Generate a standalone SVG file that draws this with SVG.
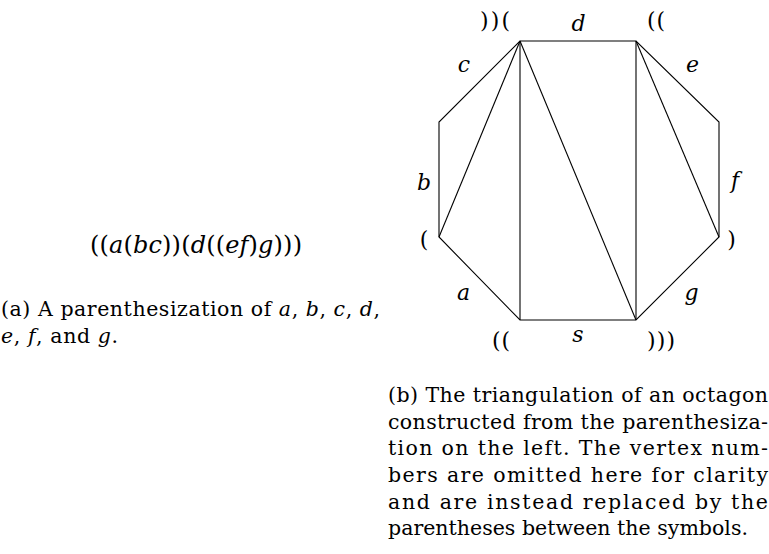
<svg xmlns="http://www.w3.org/2000/svg" width="769" height="554" viewBox="0 0 769 554" font-family="'DejaVu Serif', 'Liberation Serif', serif">
<style>
text { font-family: "DejaVu Serif", "Liberation Serif", serif; font-size: 20.5px; fill: #000; }
.m { font-style: italic; }
.lbl { text-anchor: middle; font-size: 22px; }
.edge { stroke: #000; stroke-width: 1.1; fill: none; stroke-linejoin: miter; }
</style>
<rect width="769" height="554" fill="#fff"/>
<g id="formula">
<text x="90" y="253" style="font-size:24px" textLength="212" lengthAdjust="spacing">((<tspan class="m">a</tspan>(<tspan class="m">bc</tspan>))(<tspan class="m">d</tspan>((<tspan class="m">ef</tspan>)<tspan class="m">g</tspan>)))</text>
</g>
<g id="caption-a">
<text x="1" y="316" textLength="379" lengthAdjust="spacing">(a) A parenthesization of <tspan class="m">a</tspan>, <tspan class="m">b</tspan>, <tspan class="m">c</tspan>, <tspan class="m">d</tspan>,</text>
<text x="1" y="343" textLength="117" lengthAdjust="spacing"><tspan class="m">e</tspan>, <tspan class="m">f</tspan>, and <tspan class="m">g</tspan>.</text>
</g>
<g id="connectors">
<polygon class="edge" points="520,41 636,41 719,122 719,237 636,320 520,320 439,237 439,122"/>
<line class="edge" x1="520" y1="41" x2="439" y2="237"/>
<line class="edge" x1="520" y1="41" x2="520" y2="320"/>
<line class="edge" x1="520" y1="41" x2="636" y2="320"/>
<line class="edge" x1="636" y1="41" x2="636" y2="320"/>
<line class="edge" x1="636" y1="41" x2="719" y2="237"/>
</g>
<g id="v-top-left"><text class="lbl" x="495" y="28" textLength="30" lengthAdjust="spacing">))(</text></g>
<g id="v-top-right"><text class="lbl" x="656" y="28" textLength="18" lengthAdjust="spacing">((</text></g>
<g id="v-left"><text class="lbl" x="424" y="247">(</text></g>
<g id="v-right"><text class="lbl" x="731.5" y="247">)</text></g>
<g id="v-bottom-left"><text class="lbl" x="501" y="348" textLength="18" lengthAdjust="spacing">((</text></g>
<g id="v-bottom-right"><text class="lbl" x="661" y="348" textLength="28" lengthAdjust="spacing">)))</text></g>
<g id="edge-labels">
<text class="lbl m" x="578.5" y="31">d</text>
<text class="lbl m" x="464" y="72">c</text>
<text class="lbl m" x="692.5" y="72">e</text>
<text class="lbl m" x="424" y="190">b</text>
<text class="lbl m" x="735" y="188">f</text>
<text class="lbl m" x="463.5" y="300">a</text>
<text class="lbl m" x="691.5" y="300">g</text>
<text class="lbl m" x="578" y="342">s</text>
</g>
<g id="caption-b">
<text x="388" y="402" textLength="380" lengthAdjust="spacing">(b) The triangulation of an octagon</text>
<text x="388" y="428.5" textLength="380" lengthAdjust="spacing">constructed from the parenthesiza-</text>
<text x="388" y="455" textLength="380" lengthAdjust="spacing">tion on the left.  The vertex num-</text>
<text x="388" y="482" textLength="380" lengthAdjust="spacing">bers are omitted here for clarity</text>
<text x="388" y="508.5" textLength="380" lengthAdjust="spacing">and are instead replaced by the</text>
<text x="388" y="535" textLength="360" lengthAdjust="spacing">parentheses between the symbols.</text>
</g>
</svg>
